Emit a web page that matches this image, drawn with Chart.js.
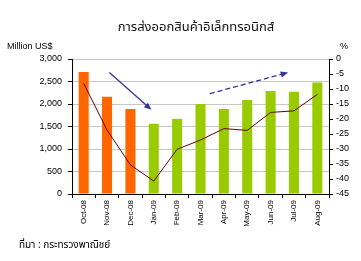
<!DOCTYPE html>
<html>
<head>
<meta charset="utf-8">
<script src="https://cdn.jsdelivr.net/npm/chart.js@4.4.0/dist/chart.umd.min.js"></script>
<style>
  html, body { margin: 0; padding: 0; background: #fff; }
  #wrap { width: 361px; height: 261px; position: relative; }
</style>
</head>
<body>
<div id="wrap"><canvas id="myChart" width="361" height="261"></canvas></div>
<script>
const months = ["Oct-08", "Nov-08", "Dec-08", "Jan-09", "Feb-09", "Mar-09", "Apr-09", "May-09", "Jun-09", "Jul-09", "Aug-09"];
const exportValue = [2710, 2160, 1890, 1560, 1670, 2000, 1890, 2090, 2290, 2270, 2480];
const growthPct = [-8.1, -23.7, -35.3, -40.7, -30.1, -27, -23.2, -23.8, -17.8, -17.3, -11.8];
const barColors = ["#ff6600", "#ff6600", "#ff6600", "#99cc00", "#99cc00", "#99cc00", "#99cc00", "#99cc00", "#99cc00", "#99cc00", "#99cc00"];
const leftTicks = [0, 500, 1000, 1500, 2000, 2500, 3000];
const rightTicks = [0, -5, -10, -15, -20, -25, -30, -35, -40, -45];

// trend arrows in [category index, export value]
const downArrow = [[1.1, 2700], [2.9, 1870]];
const upArrow = [[5.4, 2230], [8.75, 2700]];

const thaiFont = "'Noto Sans Thai', 'Loma', 'Garuda', 'Tlwg Typist', 'DejaVu Sans', sans-serif";

function drawArrow(ctx, x1, y1, x2, y2, dash) {
  const ang = Math.atan2(y2 - y1, x2 - x1);
  const hl = 8;
  ctx.save();
  ctx.strokeStyle = "#333399";
  ctx.fillStyle = "#333399";
  ctx.lineWidth = 1.3;
  ctx.setLineDash(dash);
  ctx.beginPath();
  ctx.moveTo(x1, y1);
  ctx.lineTo(x2 - Math.cos(ang) * hl * 0.8, y2 - Math.sin(ang) * hl * 0.8);
  ctx.stroke();
  ctx.setLineDash([]);
  ctx.beginPath();
  ctx.moveTo(x2, y2);
  ctx.lineTo(x2 - hl * Math.cos(ang - 0.4), y2 - hl * Math.sin(ang - 0.4));
  ctx.lineTo(x2 - hl * Math.cos(ang + 0.4), y2 - hl * Math.sin(ang + 0.4));
  ctx.closePath();
  ctx.fill();
  ctx.restore();
}

const decor = {
  id: 'decor',
  afterDraw: (chart) => {
    const {ctx} = chart;
    const x = chart.scales.x, y = chart.scales.y;
    ctx.save();
    ctx.fillStyle = "#111";
    ctx.textBaseline = "middle";
    ctx.textAlign = "center";
    ctx.font = "13px " + thaiFont;
    ctx.fillText("การส่งออกสินค้าอิเล็กทรอนิกส์", 196, 28);
    ctx.font = "9px 'Liberation Sans', Arial, sans-serif";
    ctx.fillStyle = "#000";
    ctx.textAlign = "left";
    ctx.fillText("Million US$", 7, 47);
    ctx.fillText("%", 340, 47);
    ctx.font = "10px " + thaiFont;
    ctx.fillText("ที่มา : กระทรวงพาณิชย์", 19, 246);
    ctx.restore();
    drawArrow(ctx, x.getPixelForValue(downArrow[0][0]), y.getPixelForValue(downArrow[0][1]),
      x.getPixelForValue(downArrow[1][0]), y.getPixelForValue(downArrow[1][1]), []);
    drawArrow(ctx, x.getPixelForValue(upArrow[0][0]), y.getPixelForValue(upArrow[0][1]),
      x.getPixelForValue(upArrow[1][0]), y.getPixelForValue(upArrow[1][1]), [5, 3]);
  }
};

const tickFont = { family: "'Liberation Sans', Arial, sans-serif", size: 9 };

new Chart("myChart", {
  data: {
    labels: months,
    datasets: [
      {
        type: "line",
        data: growthPct,
        yAxisID: "y1",
        borderColor: "#660000",
        borderWidth: 1,
        pointRadius: 0,
        tension: 0,
        order: 0
      },
      {
        type: "bar",
        data: exportValue,
        yAxisID: "y",
        backgroundColor: barColors,
        barPercentage: 0.43,
        categoryPercentage: 1,
        order: 1
      }
    ]
  },
  options: {
    responsive: false,
    animation: false,
    layout: { padding: { top: 59, left: 0, right: 0, bottom: 0 } },
    plugins: { legend: { display: false }, tooltip: { enabled: false } },
    scales: {
      x: {
        offset: true,
        grid: { offset: true, drawOnChartArea: false, tickColor: "#000", tickLength: 4 },
        border: { color: "#000" },
        ticks: { font: { family: tickFont.family, size: 8 }, color: "#000", maxRotation: 90, minRotation: 90, padding: 2 },
        afterFit: (s) => { s.height = 67; }
      },
      y: {
        position: "left",
        min: 0, max: 3000,
        afterBuildTicks: (s) => { s.ticks = leftTicks.map(v => ({ value: v })); },
        grid: { color: "#c8c8c8", tickColor: "#000", tickLength: 4 },
        border: { color: "#000" },
        ticks: { font: tickFont, color: "#000", padding: 6, callback: (v) => v.toLocaleString("en-US") },
        afterFit: (s) => { s.width = 72; }
      },
      y1: {
        position: "right",
        min: -45, max: 0,
        afterBuildTicks: (s) => { s.ticks = rightTicks.map(v => ({ value: v })); },
        grid: { drawOnChartArea: false, tickColor: "#000", tickLength: 4 },
        border: { color: "#000" },
        ticks: { font: tickFont, color: "#000", padding: 3 },
        afterFit: (s) => { s.width = 32; }
      }
    }
  },
  plugins: [decor]
});
</script>
</body>
</html>
